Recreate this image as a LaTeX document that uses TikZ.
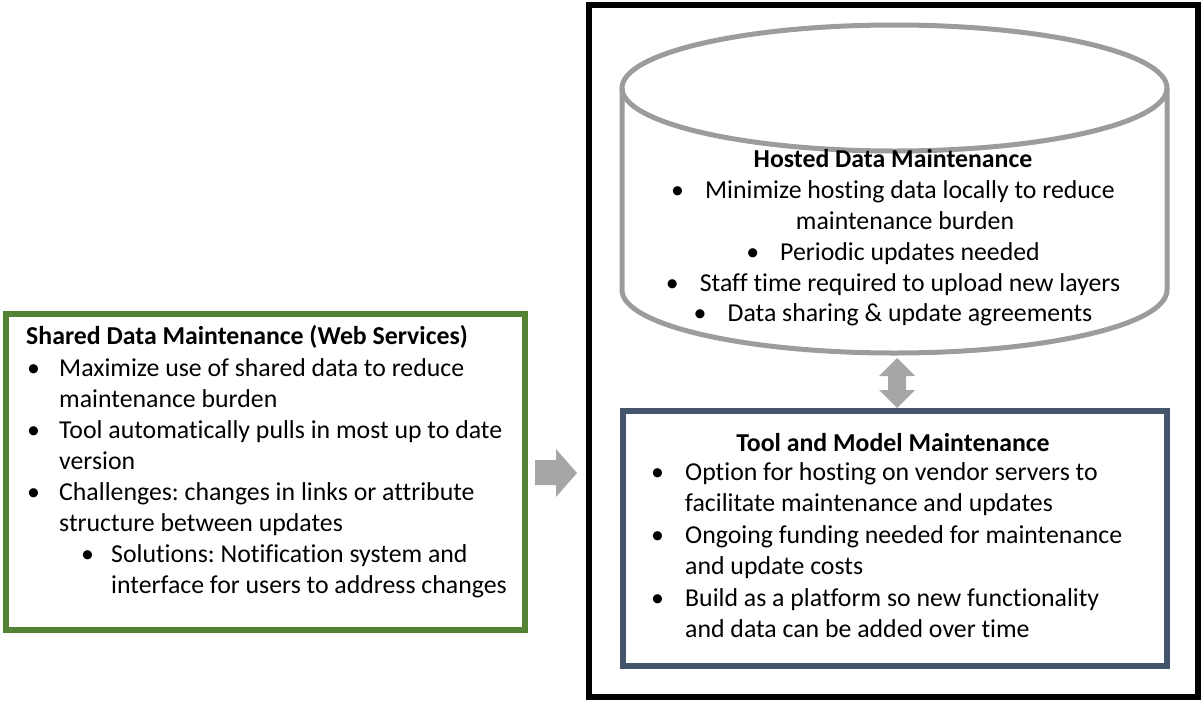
\documentclass[tikz,border=0pt]{standalone}
\usepackage{fontspec}
\setmainfont{Carlito}[Ligatures={TeX,NoCommon}]
\frenchspacing
\definecolor{boxgreen}{HTML}{548235}
\definecolor{boxslate}{HTML}{44546A}
\definecolor{cylgray}{HTML}{9C9C9C}
\definecolor{arrgray}{HTML}{A6A6A6}
\begin{document}
\begin{tikzpicture}[x=1pt,y=-1pt,
  txt/.style={inner sep=0pt, font=\fontsize{25.8}{31}\selectfont, anchor=base west},
  ctxt/.style={txt, anchor=base},
  frame/.style={draw, line width=6pt, inner sep=0pt, fill=none},
  blockarrow/.style={fill=arrgray, draw=none}]
\useasboundingbox (0,0) rectangle (1203,702);

% outer frame around the hosted part
\node[frame, draw=black, minimum width=609pt, minimum height=692pt] (outer) at (893.5,351) {};

% left box
\node[frame, draw=boxgreen, minimum width=519pt, minimum height=316pt] (shared) at (265.5,472) {};
\node[txt] (s0) at (26,344) {\textbf{Shared Data Maintenance (Web Services)}};
\node[txt] (s1) at (27,376) {\makebox[32pt][l]{•}Maximize use of shared data to reduce};
\node[txt] (s2) at (59,407) {maintenance burden};
\node[txt] (s3) at (27,438) {\makebox[32pt][l]{•}Tool automatically pulls in most up to date};
\node[txt] (s4) at (59,469) {version};
\node[txt] (s5) at (27,500) {\makebox[32pt][l]{•}Challenges: changes in links or attribute};
\node[txt] (s6) at (59,531) {structure between updates};
\node[txt] (s7) at (81,562) {\makebox[30pt][l]{•}Solutions: Notification system and};
\node[txt] (s8) at (111,593) {interface for users to address changes};

% arrow into the frame
\fill[blockarrow] (535,460) -- (556,460) -- (556,449) -- (577,473) -- (556,497) -- (556,485) -- (535,485) -- cycle;

% cylinder
\draw[cylgray, line width=5pt] (894.5,88) ellipse [x radius=272.5, y radius=63];
\draw[cylgray, line width=5pt] (622,88) -- (622,290) arc [start angle=180, end angle=0, x radius=272.5, y radius=63] -- (1167,88);
\node[ctxt] (h0) at (893,167) {\textbf{Hosted Data Maintenance}};
\node[ctxt] (h1) at (893,198) {\makebox[34pt][l]{•}Minimize hosting data locally to reduce};
\node[ctxt] (h2) at (905,229) {maintenance burden};
\node[ctxt] (h3) at (893,260) {\makebox[34pt][l]{•}Periodic updates needed};
\node[ctxt] (h4) at (893,291) {\makebox[34pt][l]{•}Staff time required to upload new layers};
\node[ctxt] (h5) at (893,321) {\makebox[34pt][l]{•}Data sharing \& update agreements};

% double arrow between cylinder and box
\fill[blockarrow] (897,358) -- (915,376) -- (906,376) -- (906,390) -- (915,390) -- (897,408)
  -- (879,390) -- (888,390) -- (888,376) -- (879,376) -- cycle;

% tool box
\node[frame, draw=boxslate, minimum width=544pt, minimum height=255pt] (tool) at (895,538.5) {};
\node[ctxt] (t0) at (893,451) {\textbf{Tool and Model Maintenance}};
\node[txt] (t1) at (651,480) {\makebox[34pt][l]{•}Option for hosting on vendor servers to};
\node[txt] (t2) at (685,511) {facilitate maintenance and updates};
\node[txt] (t3) at (651,543) {\makebox[34pt][l]{•}Ongoing funding needed for maintenance};
\node[txt] (t4) at (685,574) {and update costs};
\node[txt] (t5) at (651,606) {\makebox[34pt][l]{•}Build as a platform so new functionality};
\node[txt] (t6) at (685,637) {and data can be added over time};
\end{tikzpicture}
\end{document}
